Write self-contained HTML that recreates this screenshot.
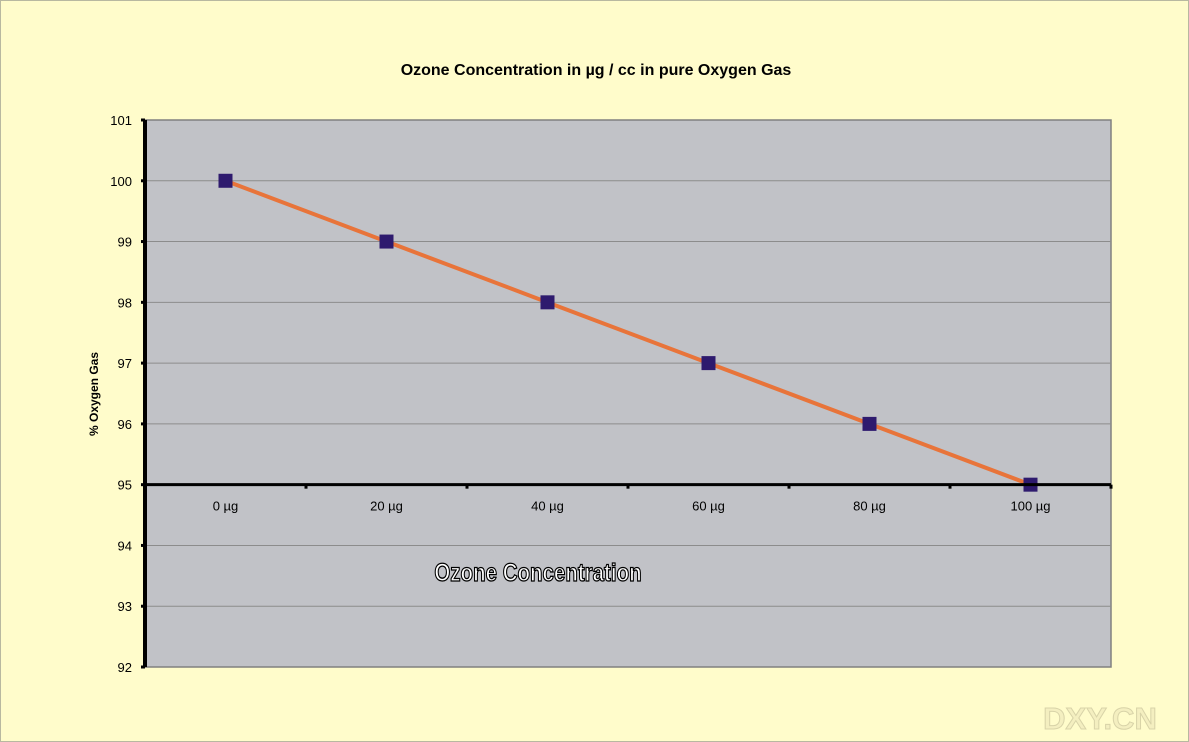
<!DOCTYPE html>
<html><head><meta charset="utf-8"><style>
body{margin:0;background:#fffccb;}
svg{display:block;font-family:"Liberation Sans",sans-serif;}
</style></head><body>
<svg id="chart" width="1189" height="742" viewBox="0 0 1189 742" xmlns="http://www.w3.org/2000/svg">
<rect x="0.5" y="0.5" width="1188" height="741" fill="#fffccb" stroke="#b8b8a0"/>
<text x="596" y="75" text-anchor="middle" font-size="16" font-weight="bold" fill="#000">Ozone Concentration in µg / cc in pure Oxygen Gas</text>
<rect x="145" y="120" width="966" height="547" fill="#c1c2c7" stroke="#808080" stroke-width="1.5"/>
<g id="grid"></g>
<g id="series"></g>
<g id="axes"></g>
<text transform="translate(98,394) rotate(-90)" text-anchor="middle" font-size="12" font-weight="bold">% Oxygen Gas</text>
<text x="538" y="581" text-anchor="middle" font-size="25" font-weight="bold" fill="#fff" stroke="#000" stroke-width="1.3" transform="translate(538,0) scale(0.82,1) translate(-538,0)">Ozone Concentration</text>
<text x="1100" y="729" text-anchor="middle" font-size="31" font-weight="bold" fill="#f4efc0" stroke="#d8d3a8" stroke-width="1">DXY.CN</text>
</svg>
<script>
const categories = ["0 µg","20 µg","40 µg","60 µg","80 µg","100 µg"];
const oxygenValues = [100,99,98,97,96,95];
const yTicks = [92,93,94,95,96,97,98,99,100,101];
const NS="http://www.w3.org/2000/svg";
const L=145,R=1111,T=120,B=667,yMin=92,yMax=101,xCross=95;
const y=v=>B-(v-yMin)/(yMax-yMin)*(B-T);
const bw=(R-L)/categories.length;
const x=i=>L+bw*(i+0.5);
function mk(tag,attrs,parent){const e=document.createElementNS(NS,tag);for(const k in attrs)e.setAttribute(k,attrs[k]);parent.appendChild(e);return e;}
const grid=document.getElementById('grid'),axes=document.getElementById('axes'),series=document.getElementById('series');
yTicks.forEach(v=>{
  if(v!==yMin&&v!==yMax){const g=mk('line',{x1:L,x2:R,y1:y(v),y2:y(v),stroke:'#8c8c8c','stroke-width':1},grid);
  
  }
  const t=mk('line',{x1:L-4,x2:L,y1:y(v),y2:y(v),stroke:'#000','stroke-width':3},axes);
  
  
  const lb=mk('text',{x:L-13,y:y(v)+5,'text-anchor':'end','font-size':13},axes);
  lb.textContent=v;
  
  
});
const ya=mk('line',{x1:L,x2:L,y1:T,y2:B,stroke:'#000','stroke-width':4},axes);


const xa=mk('line',{x1:L,x2:R,y1:y(xCross),y2:y(xCross),stroke:'#000','stroke-width':3},axes);


for(let i=1;i<=categories.length;i++){
  const t=mk('line',{x1:L+bw*i,x2:L+bw*i,y1:y(xCross),y2:y(xCross)+4,stroke:'#000','stroke-width':3},axes);
  
  
}
categories.forEach((c,i)=>{
  const lb=mk('text',{x:x(i),y:y(xCross)+26,'text-anchor':'middle','font-size':13},axes);
  lb.textContent=c;
  
  
});
const pl=mk('polyline',{points:oxygenValues.map((v,i)=>x(i)+','+y(v)).join(' '),fill:'none',stroke:'#e8743a','stroke-width':4},series);


oxygenValues.forEach((v,i)=>{
  const m=mk('rect',{x:x(i)-7,y:y(v)-7,width:14,height:14,fill:'#2e1a6e'},series);
  
  
});
</script>
</body></html>
